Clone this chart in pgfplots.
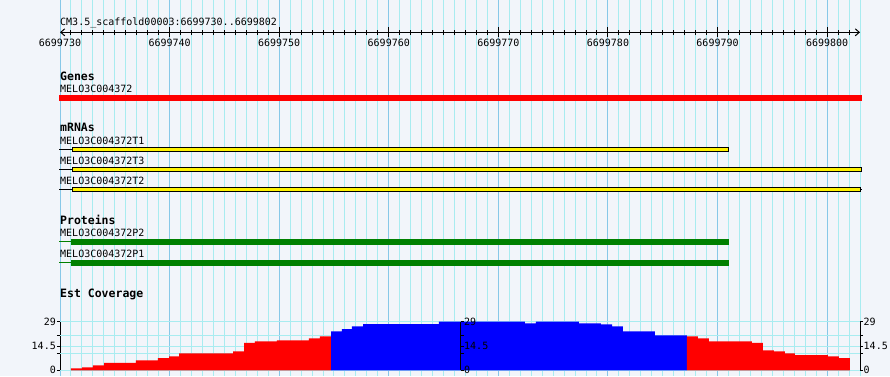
\documentclass[border=0pt]{standalone}
\usepackage{pgfplots}
\pgfplotsset{compat=1.18}
\usepackage{fontspec}
\setmonofont{DejaVu Sans Mono}
\usetikzlibrary{arrows.meta}
\definecolor{bg}{RGB}{242,245,250}
\definecolor{gridminor}{RGB}{168,236,240}
\definecolor{gridmajor}{RGB}{135,200,232}
\definecolor{protgreen}{RGB}{0,128,0}
\newcommand{\sm}{\ttfamily\fontsize{10}{12}\selectfont}
\newcommand{\bh}{\ttfamily\bfseries\fontsize{11.5}{13}\selectfont}
\begin{document}
\begin{tikzpicture}[x=1pt,y=1pt]
\path[use as bounding box] (0,0) rectangle (890,376);
\fill[bg] (0,0) rectangle (890,376);
% ---------------- track area (x = bp offset from 6699730, y = pixel from top)
\begin{axis}[at={(60pt,0pt)}, anchor=south west, scale only axis,
  width=800pt, height=376pt, xmin=0, xmax=73, ymin=0, ymax=376, y dir=reverse,
  clip=false, axis line style={draw=none}, ytick=\empty,
  xtick={1,2,3,4,5,6,7,8,9,11,12,13,14,15,16,17,18,19,21,22,23,24,25,26,27,28,29,31,32,33,34,35,36,37,38,39,41,42,43,44,45,46,47,48,49,51,52,53,54,55,56,57,58,59,61,62,63,64,65,66,67,68,69,71,72,73},
  xticklabels={}, major tick length=0pt,
  xmajorgrids=true, major grid style={color=gridminor, line width=1pt},
  extra x ticks={0,10,20,30,40,50,60,70}, extra x tick labels={},
  extra x tick style={grid=major, major grid style={color=gridmajor, line width=1pt}}]
% title and track labels
\node[anchor=base west, inner sep=0pt, font=\sm] at (axis cs:0,25.3) {CM3.5\_scaffold00003:6699730..6699802};
\node[anchor=base west, inner sep=0pt, font=\bh] at (axis cs:0,80.5) {Genes};
\node[anchor=base west, inner sep=0pt, font=\sm] at (axis cs:0,92.7) {MELO3C004372};
\node[anchor=base west, inner sep=0pt, font=\bh] at (axis cs:0,131.7) {mRNAs};
\node[anchor=base west, inner sep=0pt, font=\sm] at (axis cs:0,144.3) {MELO3C004372T1};
\node[anchor=base west, inner sep=0pt, font=\sm] at (axis cs:0,164.3) {MELO3C004372T3};
\node[anchor=base west, inner sep=0pt, font=\sm] at (axis cs:0,184.3) {MELO3C004372T2};
\node[anchor=base west, inner sep=0pt, font=\bh] at (axis cs:0,224.3) {Proteins};
\node[anchor=base west, inner sep=0pt, font=\sm] at (axis cs:0,236.3) {MELO3C004372P2};
\node[anchor=base west, inner sep=0pt, font=\sm] at (axis cs:0,257.3) {MELO3C004372P1};
\node[anchor=base west, inner sep=0pt, font=\bh] at (axis cs:0,297.5) {Est Coverage};
% gene
\addplot[red, line width=6pt] coordinates {(-0.09,98) (73.16,98)};
% mRNA T1
\addplot[black, line width=1pt] coordinates {(-0.09,149.3) (1.1,149.3)};
\addplot[black, line width=5pt] coordinates {(1.1,149.3) (61.01,149.3)};
\addplot[yellow, line width=3pt] coordinates {(1.19,149.3) (60.92,149.3)};
% mRNA T3
\addplot[black, line width=1pt] coordinates {(-0.09,169.3) (1.1,169.3)};
\addplot[black, line width=5pt] coordinates {(1.1,169.3) (73.18,169.3)};
\addplot[yellow, line width=3pt] coordinates {(1.19,169.3) (73.09,169.3)};
% mRNA T2
\addplot[black, line width=1pt] coordinates {(-0.09,189.3) (1.1,189.3)};
\addplot[black, line width=1pt] coordinates {(73.0,189.3) (73.18,189.3)};
\addplot[black, line width=5pt] coordinates {(1.1,189.3) (73.06,189.3)};
\addplot[yellow, line width=3pt] coordinates {(1.19,189.3) (72.97,189.3)};
% proteins
\addplot[protgreen, line width=1pt] coordinates {(-0.09,241.8) (1.0,241.8)};
\addplot[protgreen, line width=6pt] coordinates {(1.0,242) (61.04,242)};
\addplot[protgreen, line width=1pt] coordinates {(-0.09,262.8) (1.0,262.8)};
\addplot[protgreen, line width=6pt] coordinates {(1.0,263) (61.04,263)};
\end{axis}
% ---------------- ruler
\begin{axis}[at={(60pt,342.7pt)}, anchor=south west, scale only axis,
  width=800pt, height=2pt, xmin=0, xmax=73, ymin=-1, ymax=1,
  axis x line=middle, axis y line=none,
  x axis line style={black, line width=1pt, {Straight Barb[length=4pt,width=7pt,line width=1pt]}-{Straight Barb[length=4pt,width=7pt,line width=1pt]}},
  xtick={10,20,30,40,50,60,70},
  xticklabels={6699740,6699750,6699760,6699770,6699780,6699790,6699800},
  extra x ticks={0}, extra x tick labels={6699730},
  extra x tick style={major tick style={draw=none}},
  minor xtick={1,2,3,4,5,6,7,8,9,11,12,13,14,15,16,17,18,19,21,22,23,24,25,26,27,28,29,31,32,33,34,35,36,37,38,39,41,42,43,44,45,46,47,48,49,51,52,53,54,55,56,57,58,59,61,62,63,64,65,66,67,68,69,71,72},
  tick align=center, major tick length=10pt, minor tick length=5pt,
  tick style={black, line width=1pt},
  xticklabel style={font=\sm, anchor=base, inner sep=0pt, yshift=-9.7pt},
  xticklabel shift=0pt]
\end{axis}
% ---------------- coverage (left axis + data)
\begin{axis}[at={(60pt,5.7pt)}, anchor=south west, scale only axis,
  width=800pt, height=48.6pt, xmin=0, xmax=73, ymin=0, ymax=29,
  axis x line=none, axis y line*=left, axis line style={black, line width=1pt},
  ytick={0,14.5,29}, yticklabels={0,14.5,29},
  extra y ticks={10.1,20.5}, extra y tick labels={},
  extra y tick style={grid=major},
  ymajorgrids=true, major grid style={color=gridminor, line width=1pt},
  tick align=outside, major tick length=3pt, tick style={black, line width=1pt},
  yticklabel style={font=\sm, inner sep=1pt}]
\addplot[const plot, fill=red, draw=none] coordinates {
 (1.00,1.2) (2.01,1.8) (3.01,3.0) (4.02,4.4) (6.93,6.0) (8.94,7.2) (9.95,8.3)
 (10.86,10.1) (15.79,11.3) (16.79,16.3) (17.79,17.3) (19.80,17.9) (22.72,19.1)
 (23.72,20.3) (24.73,20.3)} \closedcycle;
\addplot[const plot, fill=blue, draw=none] coordinates {
 (24.73,23.3) (25.73,24.5) (26.64,26.2) (27.65,27.6) (34.58,29.0) (42.43,28.0)
 (43.43,29.0) (47.35,28.0) (49.36,27.4) (50.37,26.2) (51.37,23.3) (54.29,20.9)
 (57.21,20.9)} \closedcycle;
\addplot[const plot, fill=red, draw=none] coordinates {
 (57.21,20.3) (58.21,19.1) (59.22,17.3) (63.14,16.3) (64.14,11.9) (65.15,11.3)
 (66.15,10.1) (67.06,9.0) (70.07,8.3) (71.08,7.2) (72.08,7.2)} \closedcycle;
\end{axis}
% ---------------- coverage middle scale
\begin{axis}[at={(460.5pt,5.7pt)}, anchor=south east, scale only axis,
  width=10pt, height=48.6pt, xmin=0, xmax=1, ymin=0, ymax=29,
  axis x line=none, axis y line*=right, axis line style={black, line width=1pt},
  ytick={0,14.5,29}, yticklabels={0,14.5,29},
  extra y ticks={10.1,20.5}, extra y tick labels={},
  tick align=outside, major tick length=3pt, tick style={black, line width=1pt},
  yticklabel style={font=\sm, inner sep=0.5pt}]
\end{axis}
% ---------------- coverage right scale
\begin{axis}[at={(860pt,5.7pt)}, anchor=south east, scale only axis,
  width=10pt, height=48.6pt, xmin=0, xmax=1, ymin=0, ymax=29,
  axis x line=none, axis y line*=right, axis line style={black, line width=1pt},
  ytick={0,14.5,29}, yticklabels={0,14.5,29},
  extra y ticks={10.1,20.5}, extra y tick labels={},
  tick align=outside, major tick length=3pt, tick style={black, line width=1pt},
  yticklabel style={font=\sm, inner sep=0.5pt}]
\end{axis}
\end{tikzpicture}
\end{document}
